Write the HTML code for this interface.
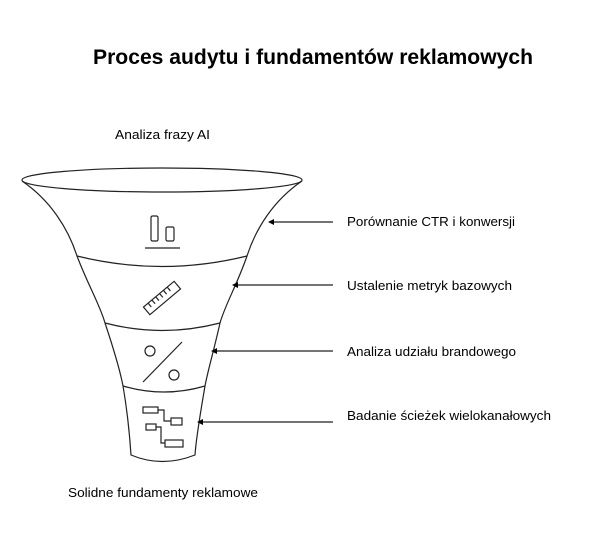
<!DOCTYPE html>
<html><head><meta charset="utf-8"><style>
body{margin:0;background:#fff;}
svg{display:block}
text{font-family:"Liberation Sans",Arial,sans-serif;fill:#000}
</style></head><body>
<svg width="600" height="557" viewBox="0 0 600 557" xmlns="http://www.w3.org/2000/svg">
<text x="93" y="64" font-size="21" font-weight="bold" textLength="440" lengthAdjust="spacingAndGlyphs">Proces audytu i fundamentów reklamowych</text>
<text x="115" y="139" font-size="13" textLength="95" lengthAdjust="spacingAndGlyphs">Analiza frazy AI</text>
<text x="68" y="497" font-size="13" textLength="190" lengthAdjust="spacingAndGlyphs">Solidne fundamenty reklamowe</text>
<g fill="none" stroke="#222" stroke-width="1.2">
<ellipse cx="162" cy="180" rx="140" ry="12"/>
<path d="M22,181 C50,200 68,228 77,256 C88,285 100,305 105,323 C114,350 120,370 123,386 C128,415 130,440 131,455 Q162,468 195,455 C196,440 200,415 205,386 C208,370 214,350 220,323 C225,305 237,285 247,256 C256,228 274,200 302,181"/>
<path d="M77,256 Q162,277 247,256"/>
<path d="M105,323 Q162,338 220,323"/>
<path d="M123,386 Q164,398 205,386"/>
<rect x="151" y="216" width="7" height="25" rx="1.5"/>
<rect x="166" y="227" width="8" height="14" rx="1.5"/>
<line x1="145" y1="248" x2="180" y2="248"/>
<g transform="translate(162,298) rotate(-40)">
<rect x="-20" y="-5" width="40" height="10"/>
<line x1="-14" y1="-5" x2="-14" y2="0"/><line x1="-9" y1="-5" x2="-9" y2="0"/><line x1="-4" y1="-5" x2="-4" y2="0"/><line x1="1" y1="-5" x2="1" y2="0"/><line x1="6" y1="-5" x2="6" y2="0"/><line x1="11" y1="-5" x2="11" y2="0"/>
</g>
<circle cx="150" cy="351" r="5"/>
<circle cx="174" cy="375" r="5"/>
<line x1="182" y1="342" x2="143" y2="382"/>
<rect x="143" y="407" width="15" height="6"/>
<rect x="146" y="424" width="10" height="6"/>
<rect x="171" y="418" width="11" height="7"/>
<rect x="165" y="440" width="18" height="7"/>
<path d="M158,410 H164 V421 H171"/>
<path d="M156,427 H161 V443 H165"/>
<line x1="333" y1="222" x2="273" y2="222"/>
<line x1="333" y1="285" x2="237" y2="285"/>
<line x1="333" y1="351" x2="216" y2="351"/>
<line x1="333" y1="422" x2="202" y2="422"/>
</g>
<g fill="#000">
<path d="M268,222 l6,-3 v6z"/>
<path d="M232,285 l6,-3 v6z"/>
<path d="M211,351 l6,-3 v6z"/>
<path d="M197,422 l6,-3 v6z"/>
</g>
<text x="347" y="226" font-size="13" textLength="168" lengthAdjust="spacingAndGlyphs">Porównanie CTR i konwersji</text>
<text x="347" y="290" font-size="13" textLength="165" lengthAdjust="spacingAndGlyphs">Ustalenie metryk bazowych</text>
<text x="347" y="356" font-size="13" textLength="169" lengthAdjust="spacingAndGlyphs">Analiza udziału brandowego</text>
<text x="347" y="420" font-size="13" textLength="204" lengthAdjust="spacingAndGlyphs">Badanie ścieżek wielokanałowych</text>
</svg>
</body></html>
